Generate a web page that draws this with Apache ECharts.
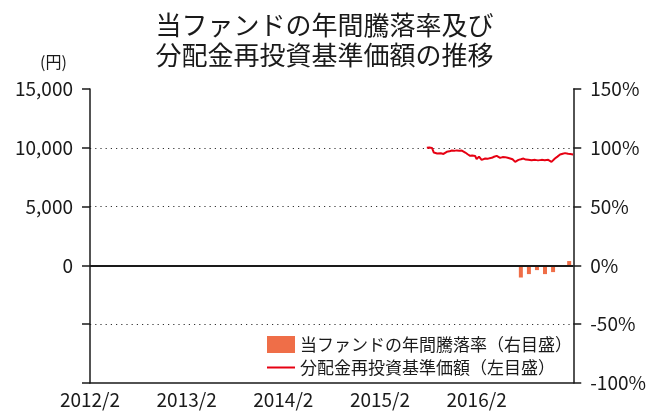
<!DOCTYPE html>
<html>
<head>
<meta charset="utf-8">
<script src="https://cdn.jsdelivr.net/npm/echarts@6/dist/echarts.min.js"></script>
<style>
html, body { margin: 0; padding: 0; background: #fff; }
#chart { width: 649px; height: 412px; }
</style>
</head>
<body>
<div id="chart"></div>
<script>
// 年間騰落率（月ごとの棒）
var barMonths = ['2016-07', '2016-08', '2016-09', '2016-10', '2016-11', '2016-12', '2017-01'];
var barValues = [-10.3, -7.4, -4.0, -7.4, -5.7, 0, 3.7];

// 分配金再投資基準価額
var lineDates = ['2015-07-26', '2015-08-05', '2015-08-15', '2015-08-22', '2015-08-28', '2015-09-04', '2015-09-10',
	'2015-09-18', '2015-09-28', '2015-10-04', '2015-10-10', '2015-10-20', '2015-10-29', '2015-11-08',
	'2015-11-17', '2015-11-27', '2015-12-06', '2015-12-12', '2015-12-19', '2015-12-28', '2016-01-07',
	'2016-01-15', '2016-01-26', '2016-02-01', '2016-02-05', '2016-02-10', '2016-02-15', '2016-02-20',
	'2016-03-03', '2016-03-12', '2016-03-20', '2016-03-28', '2016-04-06', '2016-04-16', '2016-04-22',
	'2016-04-29', '2016-05-08', '2016-05-17', '2016-05-27', '2016-06-06', '2016-06-15', '2016-06-25',
	'2016-07-01', '2016-07-07', '2016-07-16', '2016-07-26', '2016-08-04', '2016-08-14', '2016-08-26',
	'2016-09-09', '2016-09-20', '2016-10-03', '2016-10-15', '2016-10-28', '2016-11-04', '2016-11-10',
	'2016-11-16', '2016-11-23', '2016-12-02', '2016-12-12', '2016-12-22', '2016-12-31', '2017-01-06',
	'2017-01-12', '2017-01-20', '2017-01-31'];
var lineValues = [10000, 10020, 9990, 9600, 9560, 9520, 9487,
	9540, 9480, 9560, 9658, 9700, 9769, 9740,
	9780, 9750, 9769, 9700, 9598, 9450, 9316,
	9340, 9300, 9034, 9200, 9256, 9100, 8974,
	9085, 9060, 9120, 9145, 9240, 9316, 9220,
	9145, 9210, 9205, 9150, 9085, 9020, 8803,
	8900, 8974, 9020, 9085, 9000, 8974, 8940,
	8974, 8930, 8974, 8950, 8974, 8900, 8803,
	8950, 9085, 9250, 9427, 9500, 9547, 9520,
	9487, 9470, 9427];

// x軸目盛（2012/2 からの月数）
var xTickLabels = ['2012/2', '2013/2', '2014/2', '2015/2', '2016/2'];

function monthOffset(s) {
	var p = s.split('-').map(Number);
	return (p[0] - 2012) * 12 + (p[1] - 2) + (p[2] - 1) / 30.5;
}

var lineData = [];
for (var i = 0; i < lineDates.length; i++) {
	lineData.push([monthOffset(lineDates[i]), lineValues[i]]);
}
var barData = [];
for (var j = 0; j < barMonths.length; j++) {
	barData.push([monthOffset(barMonths[j] + '-16'), barValues[j]]);
}

var FONT = '"Noto Sans CJK JP", "Noto Sans", sans-serif';
var myChart = echarts.init(document.getElementById('chart'), null, { renderer: 'canvas' });

var option = {
	animation: false,
	backgroundColor: '#fff',
	textStyle: { fontFamily: FONT, color: '#1a1a1a' },
	title: {
		text: '当ファンドの年間騰落率及び\n分配金再投資基準価額の推移',
		left: 'center',
		top: 5,
		textStyle: { fontSize: 26, fontWeight: 'normal', lineHeight: 30, color: '#1a1a1a', fontFamily: FONT }
	},
	graphic: [{
		type: 'text',
		left: 40,
		top: 54,
		style: { text: '(円)', fontSize: 16, fill: '#1a1a1a', fontFamily: FONT }
	}],
	legend: {
		orient: 'vertical',
		left: 261,
		top: 331,
		itemGap: 6,
		itemWidth: 28,
		itemHeight: 17,
		textStyle: { fontSize: 17, color: '#1a1a1a', fontFamily: FONT },
		data: [
			{ name: '当ファンドの年間騰落率（右目盛）', icon: 'rect' },
			{ name: '分配金再投資基準価額（左目盛）', itemStyle: { opacity: 0 } }
		]
	},
	grid: { left: 90, right: 74, top: 89, bottom: 29, containLabel: false },
	xAxis: {
		type: 'value',
		min: 0,
		max: 60,
		interval: 12,
		axisLine: { onZero: false, lineStyle: { color: '#1a1a1a', width: 1.5 } },
		axisTick: { show: false },
		splitLine: { show: false },
		axisLabel: {
			margin: 7,
			fontSize: 19,
			color: '#1a1a1a',
			fontFamily: FONT,
			formatter: function(v) {
				var k = Math.round(v / 12);
				return xTickLabels[k] || '';
			}
		}
	},
	yAxis: [{
		type: 'value',
		position: 'left',
		min: -10000,
		max: 15000,
		interval: 5000,
		axisLine: { show: true, lineStyle: { color: '#1a1a1a', width: 1.5 } },
		axisTick: { show: true, length: 8, lineStyle: { color: '#1a1a1a', width: 1.5 } },
		axisLabel: {
			margin: 17,
			fontSize: 19,
			color: '#1a1a1a',
			fontFamily: FONT,
			formatter: function(v) {
				if (v < 0) return '';
				return v.toString().replace(/\B(?=(\d{3})+(?!\d))/g, ',');
			}
		},
		splitLine: {
			show: true,
			showMinLine: false,
			showMaxLine: false,
			lineStyle: { color: '#333', width: 1.2, type: [1.2, 4] }
		}
	}, {
		type: 'value',
		position: 'right',
		min: -100,
		max: 150,
		interval: 50,
		axisLine: { show: true, lineStyle: { color: '#1a1a1a', width: 1.5 } },
		axisTick: { show: true, length: 8, lineStyle: { color: '#1a1a1a', width: 1.5 } },
		axisLabel: {
			margin: 17,
			fontSize: 19,
			color: '#1a1a1a',
			fontFamily: FONT,
			formatter: '{value}%'
		},
		splitLine: { show: false }
	}],
	series: [{
		name: '当ファンドの年間騰落率（右目盛）',
		type: 'bar',
		yAxisIndex: 1,
		barWidth: 4,
		itemStyle: { color: '#EF6E48' },
		data: barData,
		markLine: {
			silent: true,
			symbol: 'none',
			label: { show: false },
			lineStyle: { color: '#1a1a1a', width: 2, type: 'solid' },
			data: [{ yAxis: 0 }]
		}
	}, {
		name: '分配金再投資基準価額（左目盛）',
		type: 'line',
		yAxisIndex: 0,
		symbol: 'none',
		lineStyle: { color: '#E60012', width: 2 },
		itemStyle: { color: '#E60012' },
		data: lineData
	}]
};

myChart.setOption(option, true);
</script>
</body>
</html>
